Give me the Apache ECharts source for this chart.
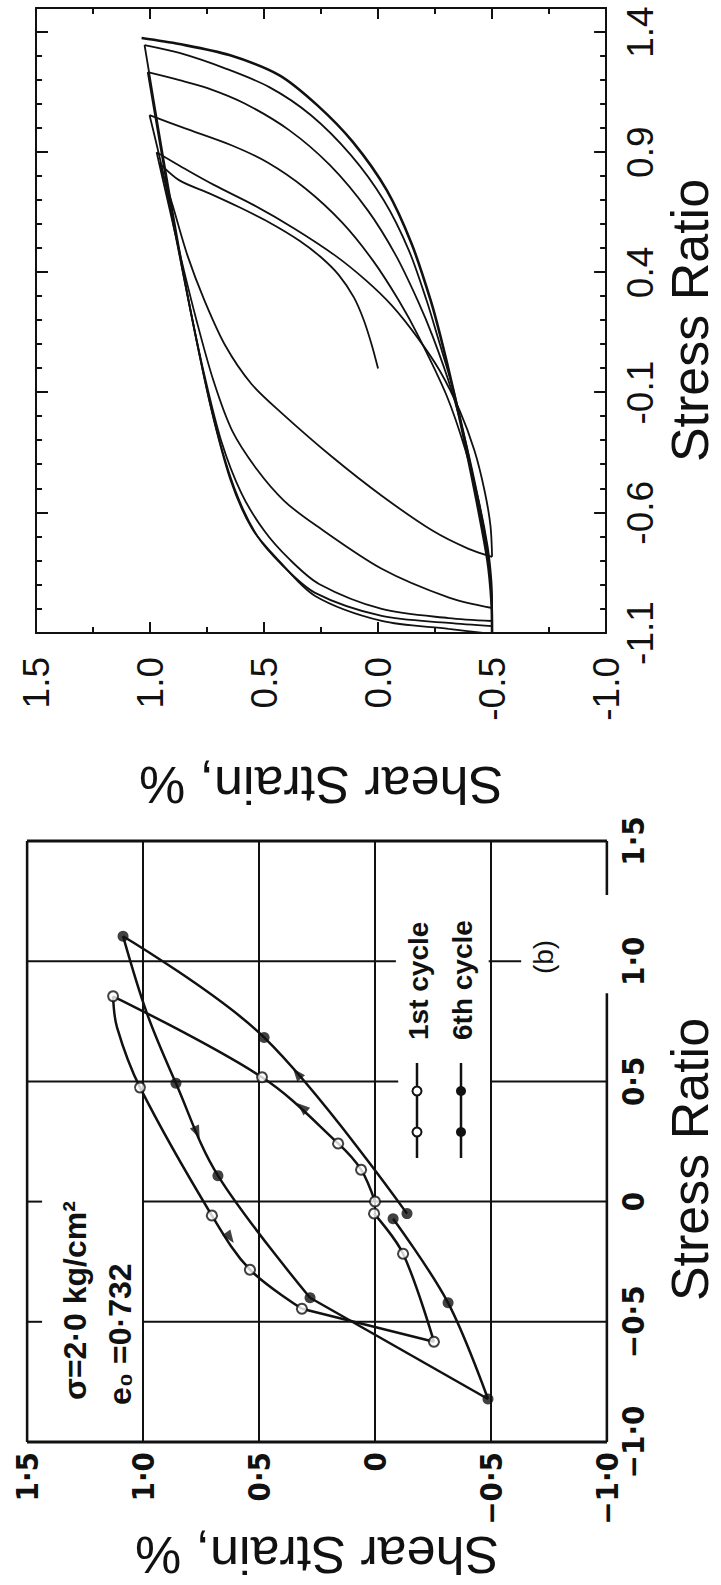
<!DOCTYPE html>
<html><head><meta charset="utf-8">
<script src="https://cdn.jsdelivr.net/npm/echarts@6.0.0/dist/echarts.min.js"></script>
<style>
html,body{margin:0;padding:0;background:#fff;overflow:hidden;}
#wrap{position:relative;width:721px;height:1585px;overflow:hidden;background:#fff;}
#chart{position:absolute;left:0;top:0;width:1585px;height:721px;transform-origin:0 0;transform:translate(0,1585px) rotate(-90deg);}
</style></head><body>
<div id="wrap"><div id="chart"></div></div>
<script>
// ---------- Lab panel (measured data) : x = stress ratio, y = shear strain % ----------
const labStressTicks = [-1.0, -0.5, 0, 0.5, 1.0, 1.5];
const labStressTickLabels = ['−1·0', '−0·5', '0', '0·5', '1·0', '1·5'];
const labStrainTicks = [-1.0, -0.5, 0, 0.5, 1.0, 1.5];
const labStrainTickLabels = ['−1·0', '−0·5', '0', '0·5', '1·0', '1·5'];

// measured points (markers)
const lab1stPoints = [[0,0],[0.133,0.06],[0.242,0.159],[0.517,0.487],[0.854,1.129],[0.475,1.013],[-0.058,0.703],[-0.283,0.539],[-0.446,0.315],[-0.583,-0.254],[-0.217,-0.121],[-0.05,0.004]];
const lab6thPoints = [[1.104,1.086],[0.683,0.478],[0.492,0.858],[0.108,0.677],[-0.4,0.28],[-0.05,-0.138],[-0.071,-0.078],[-0.421,-0.315],[-0.821,-0.487]];
// drawn curves through the points
const lab1stLoad = [[0,0],[0.133,0.06],[0.242,0.159],[0.517,0.487],[0.854,1.129]];
const lab1stUnload = [[0.854,1.129],[0.725,1.112],[0.475,1.013],[-0.058,0.703],[-0.283,0.539],[-0.446,0.315]];
const lab1stDrop = [[-0.446,0.315],[-0.583,-0.254]];
const lab1stReload = [[-0.583,-0.254],[-0.217,-0.121],[-0.05,0.004]];
const lab6thLoad = [[-0.05,-0.138],[0.683,0.478],[1.104,1.086]];
const lab6thUnload = [[1.104,1.086],[0.783,0.983],[0.492,0.858],[0.108,0.677],[-0.4,0.28]];
const lab6thDrop = [[-0.4,0.28],[-0.821,-0.487]];
const lab6thReload = [[-0.821,-0.487],[-0.421,-0.315],[-0.071,-0.078]];
const lab1stArrows = [[0.392,0.315],[-0.15,0.625]];
const lab6thArrows = [[0.533,0.336],[0.2875,0.767]];
// grid / frame segments: [stress, strainFrom, strainTo] and [strain, stressFrom, stressTo]
const labFrameStress = [[-1.0,-1.0,1.5],[1.5,-1.0,1.5]];
const labFrameStrain = [[1.5,-1.0,1.5],[-1.0,-1.0,0.867],[-1.0,1.275,1.5]];
const labGridStress = [[-0.5,-1.0,1.0],[-0.5,1.435,1.5],[0,-1.0,1.0],[0,1.435,1.5],[0.5,-1.0,-0.5],[0.5,-0.1,1.5],[1.0,-0.63,-0.49],[1.0,-0.09,1.5]];
const labGridStrain = [[1.0,-1.0,1.5],[0.5,-1.0,1.5],[0,-1.0,1.5],[-0.5,-1.0,1.5]];

// ---------- Model panel : x = stress ratio, y = shear strain % ----------
const modelStressTicks = [-1.1, -0.6, -0.1, 0.4, 0.9, 1.4];
const modelStressTickLabels = ['-1.1', '-0.6', '-0.1', '0.4', '0.9', '1.4'];
const modelStressMinor = [-1.0,-0.9,-0.8,-0.7,-0.5,-0.4,-0.3,-0.2,0.0,0.1,0.2,0.3,0.5,0.6,0.7,0.8,1.0,1.1,1.2,1.3];
const modelStrainTicks = [-1.0, -0.5, 0.0, 0.5, 1.0, 1.5];
const modelStrainTickLabels = ['-1.0', '-0.5', '0.0', '0.5', '1.0', '1.5'];
const modelStrainMinor = [-0.75, -0.25, 0.25, 0.75, 1.25];

const modelInitial = [[0.0,0.0],[0.096,0.027],[0.2,0.062],[0.296,0.106],[0.388,0.171],[0.463,0.25],[0.533,0.346],[0.608,0.477],[0.671,0.608],[0.729,0.74],[0.783,0.871],[0.854,0.958]];
const modelLoad2 = [[-0.783,-0.5],[-0.654,-0.493],[-0.508,-0.467],[-0.342,-0.423],[-0.175,-0.358],[-0.008,-0.27],[0.133,-0.17],[0.263,-0.06],[0.367,0.053],[0.471,0.189],[0.583,0.368],[0.679,0.543],[0.763,0.718],[0.825,0.836],[0.9,0.971]];
const modelLoad3 = [[-0.996,-0.5],[-0.883,-0.497],[-0.738,-0.48],[-0.55,-0.441],[-0.342,-0.384],[-0.113,-0.301],[0.133,-0.178],[0.283,-0.091],[0.45,0.023],[0.608,0.158],[0.75,0.32],[0.858,0.486],[0.929,0.643],[1.0,0.849],[1.054,1.002]];
const modelLoad4 = [[-1.05,-0.5],[-0.925,-0.497],[-0.758,-0.48],[-0.55,-0.441],[-0.321,-0.388],[-0.092,-0.323],[0.133,-0.24],[0.283,-0.174],[0.471,-0.078],[0.658,0.045],[0.846,0.211],[0.992,0.39],[1.104,0.587],[1.167,0.748],[1.2,0.871],[1.233,1.01]];
const modelLoad5 = [[-1.071,-0.5],[-0.946,-0.497],[-0.779,-0.48],[-0.55,-0.436],[-0.321,-0.388],[-0.092,-0.331],[0.133,-0.261],[0.283,-0.213],[0.492,-0.135],[0.7,-0.025],[0.888,0.119],[1.054,0.294],[1.171,0.477],[1.25,0.674],[1.313,0.871],[1.346,1.024]];
const modelLoad6 = [[-1.104,-0.5],[-0.967,-0.497],[-0.8,-0.48],[-0.55,-0.432],[-0.325,-0.384],[-0.092,-0.331],[0.133,-0.274],[0.283,-0.231],[0.517,-0.148],[0.742,-0.038],[0.942,0.11],[1.096,0.267],[1.221,0.434],[1.304,0.652],[1.35,0.871],[1.375,1.037]];
const modelUnload1 = [[0.854,0.958],[0.679,0.901],[0.471,0.836],[0.283,0.761],[0.096,0.67],[-0.063,0.556],[-0.183,0.425],[-0.367,0.202],[-0.529,-0.016],[-0.675,-0.24],[-0.75,-0.397],[-0.783,-0.5]];
const modelUnload2 = [[0.9,0.971],[0.7,0.923],[0.45,0.862],[0.2,0.796],[-0.05,0.722],[-0.258,0.64],[-0.421,0.53],[-0.55,0.412],[-0.65,0.276],[-0.833,-0.016],[-0.954,-0.314],[-0.996,-0.5]];
const modelUnload3 = [[1.054,1.002],[0.825,0.945],[0.554,0.888],[0.263,0.827],[-0.029,0.761],[-0.3,0.688],[-0.517,0.6],[-0.675,0.499],[-0.792,0.39],[-0.896,0.259],[-1.0,-0.016],[-1.038,-0.309],[-1.05,-0.5]];
const modelUnload4 = [[1.233,1.01],[0.992,0.967],[0.7,0.914],[0.388,0.853],[0.075,0.787],[-0.238,0.713],[-0.508,0.626],[-0.696,0.53],[-0.813,0.425],[-0.933,0.276],[-1.029,-0.016],[-1.058,-0.309],[-1.071,-0.5]];
const modelUnload5 = [[1.346,1.024],[1.117,0.984],[0.846,0.936],[0.513,0.875],[0.179,0.809],[-0.154,0.735],[-0.458,0.649],[-0.667,0.552],[-0.8,0.434],[-0.946,0.276],[-1.05,-0.016],[-1.083,-0.309],[-1.104,-0.5]];

// ---------- styling / building ----------
const INK = '#111';
const FONT_H = "'Liberation Sans', Arial, Helvetica, sans-serif";
const FONT_N = "'Liberation Sans Narrow', 'DejaVu Sans Condensed', 'Liberation Sans', sans-serif";
const arrowRot1st = [-41, 125];
const arrowRot6th = [-51, 114];

function lookup(ticks, labels) {
  return function (v) {
    for (let i = 0; i < ticks.length; i++) if (Math.abs(ticks[i] - v) < 1e-6) return labels[i];
    return '';
  };
}
function curve(ax, data, width, smooth) {
  return { type: 'line', xAxisIndex: ax, yAxisIndex: ax, data: data, smooth: smooth,
    symbol: 'none', showSymbol: false, silent: true, animation: false, z: 3,
    lineStyle: { color: INK, width: width } };
}
function seg(data, width) {
  return { type: 'line', xAxisIndex: 0, yAxisIndex: 0, data: data, symbol: 'none', showSymbol: false,
    silent: true, animation: false, z: 1, lineStyle: { color: INK, width: width } };
}

const series = [];
labFrameStress.forEach(s => series.push(seg([[s[0], s[1]], [s[0], s[2]]], 2.8)));
labFrameStrain.forEach(s => series.push(seg([[s[1], s[0]], [s[2], s[0]]], 2.8)));
labGridStress.forEach(s => series.push(seg([[s[0], s[1]], [s[0], s[2]]], 2)));
labGridStrain.forEach(s => series.push(seg([[s[1], s[0]], [s[2], s[0]]], 2)));

[lab1stLoad, lab1stUnload, lab1stDrop, lab1stReload, lab6thLoad, lab6thUnload, lab6thDrop, lab6thReload]
  .forEach(d => series.push(curve(0, d, 2.5, 0.35)));

series.push({ type: 'scatter', name: '1st cycle', xAxisIndex: 0, yAxisIndex: 0, data: lab1stPoints,
  symbol: 'circle', symbolSize: 10, z: 5, silent: true, animation: false,
  itemStyle: { color: '#fff', borderColor: INK, borderWidth: 2 } });
series.push({ type: 'scatter', name: '6th cycle', xAxisIndex: 0, yAxisIndex: 0, data: lab6thPoints,
  symbol: 'circle', symbolSize: 11, z: 5, silent: true, animation: false,
  itemStyle: { color: INK } });
series.push({ type: 'scatter', xAxisIndex: 0, yAxisIndex: 0, z: 5, silent: true, animation: false,
  symbol: 'triangle', symbolSize: [10, 13], itemStyle: { color: INK },
  data: lab1stArrows.map((p, i) => ({ value: p, symbolRotate: arrowRot1st[i] })) });
series.push({ type: 'scatter', xAxisIndex: 0, yAxisIndex: 0, z: 5, silent: true, animation: false,
  symbol: 'triangle', symbolSize: [10, 13], itemStyle: { color: INK },
  data: lab6thArrows.map((p, i) => ({ value: p, symbolRotate: arrowRot6th[i] })) });

[modelInitial, modelLoad2, modelLoad3, modelLoad4, modelLoad5,
 modelUnload1, modelUnload2, modelUnload3, modelUnload4, modelUnload5]
  .forEach(d => series.push(curve(1, d, 1.8, 0.3)));
series.push(curve(1, modelLoad6, 2.6, 0.3));

const modelStressRange = { min: -1.1, max: 1.5 };
const modelStrainRange = { min: -1.0, max: 1.5 };
function tickAxis(grid, range, pos, values, len, line, extra) {
  return Object.assign({ gridIndex: grid, type: 'value', min: range.min, max: range.max, position: pos,
    axisLine: { show: line, onZero: false, lineStyle: { color: INK, width: 2 } },
    axisTick: { show: true, inside: true, length: len, customValues: values, lineStyle: { color: INK, width: 2 } },
    axisLabel: { show: false }, splitLine: { show: false } }, extra || {});
}

const option = {
  backgroundColor: '#fff',
  animation: false,
  grid: [
    { left: 143, top: 27, width: 601, height: 580, show: false },
    { left: 952, top: 36, width: 625, height: 572, show: false }
  ],
  xAxis: [
    { gridIndex: 0, type: 'value', min: -1, max: 1.5, interval: 0.5, position: 'bottom',
      axisLine: { show: false, onZero: false }, axisTick: { show: false }, splitLine: { show: false },
      axisLabel: { formatter: lookup(labStressTicks, labStressTickLabels), fontFamily: FONT_N, fontWeight: 'bold',
        fontSize: 31, color: INK, margin: 10 },
      name: 'Stress Ratio', nameLocation: 'middle', nameGap: 57,
      nameTextStyle: { fontFamily: FONT_H, fontSize: 52, color: INK, padding: [0, 36, 0, 0] } },
    tickAxis(1, modelStressRange, 'bottom', modelStressTicks, 12, true, {
      axisLabel: { show: true, customValues: modelStressTicks, formatter: lookup(modelStressTicks, modelStressTickLabels),
        fontFamily: FONT_H, fontSize: 37, color: INK, margin: 16 },
      name: 'Stress Ratio', nameLocation: 'middle', nameGap: 54,
      nameTextStyle: { fontFamily: FONT_H, fontSize: 52, color: INK } }),
    tickAxis(1, modelStressRange, 'bottom', modelStressMinor, 6, false),
    tickAxis(1, modelStressRange, 'top', modelStressTicks, 12, true),
    tickAxis(1, modelStressRange, 'top', modelStressMinor, 6, false)
  ],
  yAxis: [
    { gridIndex: 0, type: 'value', min: -1, max: 1.5, interval: 0.5, position: 'left',
      axisLine: { show: false, onZero: false }, axisTick: { show: false }, splitLine: { show: false },
      axisLabel: { formatter: lookup(labStrainTicks, labStrainTickLabels), fontFamily: FONT_N, fontWeight: 'bold',
        fontSize: 31, color: INK, margin: 10 },
      name: 'Shear Strain, %', nameLocation: 'middle', nameRotate: 90, nameGap: 85,
      nameTextStyle: { fontFamily: FONT_H, fontSize: 52, color: INK } },
    tickAxis(1, modelStrainRange, 'left', modelStrainTicks, 11, true, {
      axisLabel: { show: true, customValues: modelStrainTicks, formatter: lookup(modelStrainTicks, modelStrainTickLabels),
        fontFamily: FONT_H, fontSize: 37, color: INK, margin: 24 },
      name: 'Shear Strain, %', nameLocation: 'middle', nameRotate: 90, nameGap: 126,
      nameTextStyle: { fontFamily: FONT_H, fontSize: 52, color: INK } }),
    tickAxis(1, modelStrainRange, 'left', modelStrainMinor, 6, false),
    tickAxis(1, modelStrainRange, 'right', modelStrainTicks, 11, true),
    tickAxis(1, modelStrainRange, 'right', modelStrainMinor, 6, false)
  ],
  graphic: { elements: [
    { type: 'line', z: 10, shape: { x1: 427, y1: 417, x2: 522, y2: 417 }, style: { stroke: INK, lineWidth: 2.5 } },
    { type: 'circle', z: 11, shape: { cx: 453, cy: 417, r: 4.5 }, style: { fill: '#fff', stroke: INK, lineWidth: 2 } },
    { type: 'circle', z: 11, shape: { cx: 494, cy: 417, r: 4.5 }, style: { fill: '#fff', stroke: INK, lineWidth: 2 } },
    { type: 'text', z: 11, x: 545, y: 418, style: { text: '1st cycle', fontFamily: FONT_H, fontWeight: 'bold', fontSize: 28,
      fill: INK, align: 'left', verticalAlign: 'middle' } },
    { type: 'line', z: 10, shape: { x1: 427, y1: 461, x2: 522, y2: 461 }, style: { stroke: INK, lineWidth: 2.5 } },
    { type: 'circle', z: 11, shape: { cx: 453, cy: 461, r: 5 }, style: { fill: INK } },
    { type: 'circle', z: 11, shape: { cx: 494, cy: 461, r: 5 }, style: { fill: INK } },
    { type: 'text', z: 11, x: 545, y: 462, style: { text: '6th cycle', fontFamily: FONT_H, fontWeight: 'bold', fontSize: 28,
      fill: INK, align: 'left', verticalAlign: 'middle' } },
    { type: 'text', z: 11, x: 185, y: 75, style: { text: 'σ=2·0 kg/cm²', fontFamily: FONT_H, fontWeight: 'bold', fontSize: 32,
      fill: INK, align: 'left', verticalAlign: 'middle' } },
    { type: 'text', z: 11, x: 180, y: 120, style: { text: 'e₀ =0·732', fontFamily: FONT_H, fontWeight: 'bold', fontSize: 32,
      fill: INK, align: 'left', verticalAlign: 'middle' } },
    { type: 'text', z: 11, x: 628, y: 543, style: { text: '(b)', fontFamily: FONT_H, fontSize: 28,
      fill: INK, align: 'center', verticalAlign: 'middle' } }
  ] },
  series: series
};

const chart = echarts.init(document.getElementById('chart'), null, { renderer: 'svg', width: 1585, height: 721 });
chart.setOption(option);
</script>
</body></html>
